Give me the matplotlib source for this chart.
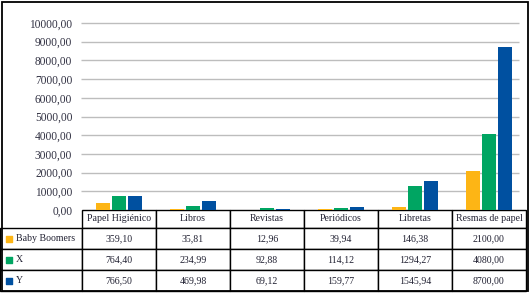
import matplotlib.pyplot as plt
import numpy as np

categories = ['Papel Higiénico', 'Libros', 'Revistas', 'Periódicos', 'Libretas', 'Resmas de papel']
series_names = ['Baby Boomers', 'X', 'Y']
baby_boomers = [359.10, 35.81, 12.96, 39.94, 146.38, 2100.00]
gen_x = [764.40, 234.99, 92.88, 114.12, 1294.27, 4080.00]
gen_y = [766.50, 469.98, 69.12, 159.77, 1545.94, 8700.00]
yticks = [0, 1000, 2000, 3000, 4000, 5000, 6000, 7000, 8000, 9000, 10000]

colors = ['#FDB515', '#00A562', '#0050A0']

plt.rcParams['font.family'] = ['Liberation Serif', 'DejaVu Serif']

W, H = 530, 293
AW, AH = 444, 187  # axes size in pixels
fig = plt.figure(figsize=(W / 100, H / 100), dpi=100)
ax = fig.add_axes([82 / W, (H - 210) / H, AW / W, AH / H])

x = np.arange(len(categories))
bw = 0.19
off = 0.215
for i, vals in enumerate([baby_boomers, gen_x, gen_y]):
    ax.bar(x + (i - 1) * off, vals, bw, color=colors[i], zorder=3)

ax.set_xlim(-0.5, len(categories) - 0.5)
ax.set_ylim(0, 10000)
ax.set_yticks(yticks)
ax.set_yticklabels(['%d,00' % v for v in yticks], fontsize=8.3, color='#333344')
ax.tick_params(axis='y', length=0, pad=7)
ax.set_xticks([])
ax.hlines(yticks[1:], -0.52, 5.41, color='#BDBDBD', lw=1, zorder=1, clip_on=False)
for s in ['top', 'right', 'left', 'bottom']:
    ax.spines[s].set_visible(False)

# data table under the chart
cell_text = [['%.2f' % v for v in row] for row in [baby_boomers, gen_x, gen_y]]
cell_text = [[t.replace('.', ',') for t in row] for row in cell_text]
tab = ax.table(cellText=cell_text, rowLabels=series_names, colLabels=categories,
               cellLoc='center', rowLoc='left',
               bbox=[0, -81 / AH, 1, 81 / AH])
tab.auto_set_font_size(False)
for (r, c), cell in tab.get_celld().items():
    cell.set_linewidth(1.0)
    cell.set_edgecolor('black')
    cell.get_text().set_fontsize(7.1)
    cell.get_text().set_color('#222233')
    cell.set_height((18 if r == 0 else 21) / AH)
    cell.set_width((80 if c == -1 else 74) / AW)
    if c == -1:
        cell.PAD = 0.19

# colour keys in front of row labels
row_y = [-(18 + 10.5) / AH, -(18 + 31.5) / AH, -(18 + 52.5) / AH]
for i in range(3):
    ax.scatter([-73.5 / AW], [row_y[i]], marker='s', s=22, color=colors[i],
               transform=ax.transAxes, clip_on=False, zorder=5)

# outer frame
fig.patches.append(plt.Rectangle((2 / W, 2 / H), (W - 4) / W, (H - 4) / H,
                                 transform=fig.transFigure, fill=False,
                                 edgecolor='black', lw=1.3))

fig.savefig('out.png', dpi=100)
